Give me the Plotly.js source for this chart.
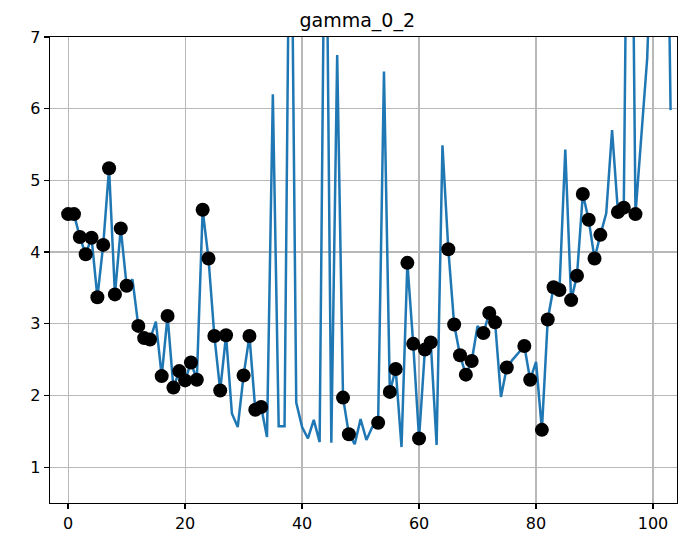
<!DOCTYPE html>
<html>
<head>
<meta charset="utf-8">
<script src="https://cdn.plot.ly/plotly-3.0.1.min.js"></script>
<style>
  html, body { margin: 0; padding: 0; background: #ffffff; }
  #chart { width: 682px; height: 533px; }
</style>
</head>
<body>
<div id="chart"></div>
<script>
// Series values, one per integer step 0..103 (values above 7 run off the top of the axes)
const lineValues = [
  4.53, 4.53, 4.21, 3.97, 4.20, 3.37, 4.10, 5.17, 3.41, 4.33,
  3.53, 3.62, 2.97, 2.80, 2.78, 3.03, 2.27, 3.11, 2.11, 2.34,
  2.21, 2.46, 2.22, 4.59, 3.91, 2.83, 2.07, 2.84, 1.75, 1.56,
  2.28, 2.83, 1.80, 1.84, 1.42, 6.20, 1.57, 1.57, 10.5, 1.90,
  1.56, 1.40, 1.66, 1.35, 10.3, 1.34, 6.75, 1.97, 1.46, 1.32,
  1.67, 1.38, 1.56, 1.62, 6.52, 2.05, 2.37, 1.28, 3.85, 2.72,
  1.40, 2.64, 2.74, 1.31, 5.49, 4.04, 2.99, 2.56, 2.29, 2.48,
  2.97, 2.87, 3.15, 3.02, 1.98, 2.39, 2.50, 2.59, 2.69, 2.22,
  2.47, 1.52, 3.06, 3.51, 3.47, 5.43, 3.33, 3.67, 4.81, 4.45,
  3.91, 4.24, 4.54, 5.70, 4.56, 4.62, 13.0, 4.53, 5.61, 6.70,
  9.0, 11.0, 12.0, 5.98
];

// Steps that are marked with a black dot
const markedSteps = [
  0, 1, 2, 3, 4, 5, 6, 7, 8, 9, 10, 12, 13, 14, 16, 17, 18, 19, 20, 21,
  22, 23, 24, 25, 26, 27, 30, 31, 32, 33, 47, 48, 53, 55, 56, 58, 59, 60,
  61, 62, 65, 66, 67, 68, 69, 71, 72, 73, 75, 78, 79, 81, 82, 83, 84, 86,
  87, 88, 89, 90, 91, 94, 95, 97
];

const xTicks = [0, 20, 40, 60, 80, 100];
const yTicks = [1, 2, 3, 4, 5, 6, 7];
const chartTitle = "gamma_0_2";

const steps = lineValues.map((_, i) => i);
const markedValues = markedSteps.map(i => lineValues[i]);

const traces = [
  {
    x: steps,
    y: lineValues,
    type: "scatter",
    mode: "lines",
    line: { color: "#1f77b4", width: 2.5 },
    showlegend: false
  },
  {
    x: markedSteps,
    y: markedValues,
    type: "scatter",
    mode: "markers",
    marker: { color: "#000000", size: 14 },
    cliponaxis: true,
    showlegend: false
  }
];

const axisCommon = {
  showline: true,
  mirror: true,
  linecolor: "#000000",
  linewidth: 1.3,
  ticks: "outside",
  ticklen: 5,
  tickwidth: 1.3,
  tickcolor: "#000000",
  showgrid: true,
  gridcolor: "#b8b8b8",
  gridwidth: 1.2,
  zeroline: false,
  tickfont: { family: "DejaVu Sans", size: 16, color: "#000000" }
};

const layout = {
  width: 682,
  height: 533,
  margin: { l: 50, r: 5, t: 37, b: 30, pad: 0 },
  paper_bgcolor: "#ffffff",
  plot_bgcolor: "#ffffff",
  font: { family: "DejaVu Sans", color: "#000000" },
  title: {
    text: chartTitle,
    font: { family: "DejaVu Sans", size: 19, color: "#000000" },
    xref: "paper",
    x: 0.49,
    xanchor: "center",
    yref: "container",
    y: 0.962,
    yanchor: "middle"
  },
  xaxis: Object.assign({}, axisCommon, {
    range: [-3.1, 104.1],
    tickvals: xTicks,
    ticktext: xTicks.map(String)
  }),
  yaxis: Object.assign({}, axisCommon, {
    range: [0.5, 7.0],
    tickvals: yTicks,
    ticktext: yTicks.map(String)
  })
};

Plotly.newPlot("chart", traces, layout, { displayModeBar: false, staticPlot: true });
</script>
</body>
</html>
